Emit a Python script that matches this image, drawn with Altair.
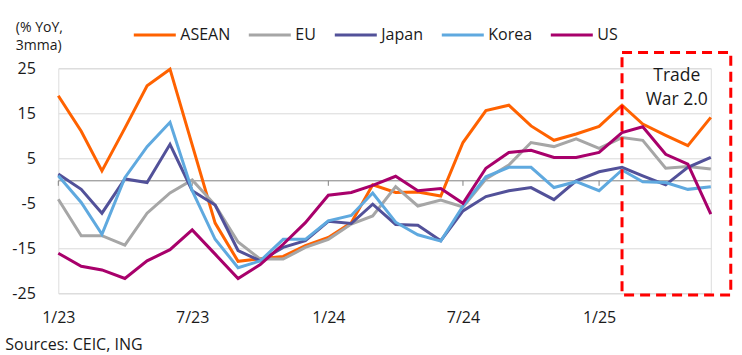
import altair as alt
import pandas as pd

# ---- data ----
months = pd.date_range("2023-01-01", periods=30, freq="MS").strftime("%Y-%m-%d").tolist()

asean = [18.9, 11.0, 2.2, 11.7, 21.1, 24.8, 8.0, -9.4, -17.9, -17.3,
         -16.8, -14.4, -12.6, -9.3, -0.9, -2.6, -2.5, -3.4, 8.5, 15.6,
         16.8, 12.2, 9.0, 10.4, 12.1, 16.8, 12.6, 10.1, 7.8, 14.1]
eu = [-4.1, -12.2, -12.2, -14.3, -7.2, -2.7, 0.2, -5.4, -13.6, -17.4,
      -17.4, -14.8, -13.0, -9.6, -7.8, -1.3, -5.6, -4.3, -5.8, 0.4,
      3.5, 8.5, 7.6, 9.3, 7.2, 9.6, 9.0, 2.8, 3.2, 2.6]
japan = [1.5, -1.9, -7.2, 0.4, -0.4, 8.1, -2.2, -5.4, -15.5, -17.8,
         -14.8, -13.3, -9.0, -9.5, -5.2, -9.7, -9.9, -13.3, -6.7, -3.5,
         -2.2, -1.5, -4.2, 0.0, 2.0, 3.0, 1.1, -0.9, 3.0, 5.2]
korea = [1.1, -4.8, -11.9, 0.7, 7.6, 13.0, -2.2, -13.0, -19.3, -17.8,
         -13.0, -13.0, -8.9, -7.7, -2.7, -9.2, -12.0, -13.4, -5.6, 0.9,
         3.0, 3.0, -1.5, -0.2, -2.2, 2.4, -0.2, -0.4, -1.9, -1.3]
us = [-16.1, -19.0, -19.8, -21.7, -17.8, -15.3, -10.9, -16.3, -21.7, -18.6,
      -14.1, -9.3, -3.2, -2.6, -1.0, 1.0, -2.2, -1.7, -5.0, 2.8,
      6.3, 6.8, 5.2, 5.2, 6.3, 10.7, 12.0, 5.9, 3.7, -7.4]

series_names = ["ASEAN", "EU", "Japan", "Korea", "US"]
series_values = [asean, eu, japan, korea, us]
colors = ["#FF6200", "#A6A6A6", "#525199", "#5FA9DF", "#A8006B"]

tick_dates = ["2023-01-01", "2023-07-01", "2024-01-01", "2024-07-01", "2025-01-01"]
y_ticks = [-25, -15, -5, 5, 15, 25]

box_start = ["2025-02-01"]
box_end = ["2025-06-28"]
box_top = [28.5]
box_bottom = [-25.4]

note_date = ["2025-04-16"]
note_value = [23.2]
note_text = ["Trade\nWar 2.0"]

y_title = ["(% YoY,", "3mma)"]
source_note = ["Sources: CEIC, ING"]

# ---- build tables ----
rows = []
for name, vals in zip(series_names, series_values):
    for m, v in zip(months, vals):
        rows.append({"month": m, "series": name, "value": v})
df = pd.DataFrame(rows)


def ms(d):
    return int(pd.Timestamp(d, tz="UTC").timestamp() * 1000)


tick_ms = [ms(d) for d in tick_dates]

FONT = "Open Sans"
TXT = "#1a1a1a"
W, H = 652.5, 225

xscale = alt.Scale(type="utc", domain=[ms(months[0]), ms(months[-1])], nice=False)
yscale = alt.Scale(domain=[-25, 25], nice=False)

x_axis = alt.Axis(values=tick_ms, format="%-m/%y", grid=False, ticks=False,
                  domain=False, labelPadding=16, labelFontSize=16,
                  labelColor=TXT, labelFont=FONT, title=None, labelFlush=False)
y_axis = alt.Axis(values=y_ticks, grid=True, gridColor="#d9d9d9", gridWidth=1,
                  ticks=False, domain=False, labelPadding=23, labelFontSize=16,
                  labelColor=TXT, labelFont=FONT,
                  labelExpr="toString(datum.value)",
                  title=y_title, titleAngle=0, titleAlign="left",
                  titleBaseline="top", titleX=-43, titleY=-48,
                  titleFontSize=14, titleFontWeight="normal", titleFont=FONT,
                  titleColor=TXT, titleLineHeight=18)

lines = alt.Chart(df).mark_line(strokeWidth=3).encode(
    x=alt.X("month:T", scale=xscale, axis=x_axis),
    y=alt.Y("value:Q", scale=yscale, axis=y_axis),
    color=alt.Color(
        "series:N",
        scale=alt.Scale(domain=series_names, range=colors),
        legend=alt.Legend(orient="none", legendX=74, legendY=-56,
                          direction="horizontal", title=None,
                          symbolType="stroke", symbolSize=1764,
                          symbolStrokeWidth=3, labelFontSize=16,
                          labelFont=FONT, labelColor=TXT, labelOffset=3,
                          columnPadding=12),
    ),
)

zero_line = alt.Chart(pd.DataFrame({"value": [0]})).mark_rule(
    color="#808080", strokeWidth=1).encode(y=alt.Y("value:Q", scale=yscale))

ticks = alt.Chart(pd.DataFrame({"month": tick_dates})).mark_rule(
    color="#808080", strokeWidth=1).encode(
    x=alt.X("month:T", scale=xscale),
    y=alt.datum(0),
    y2=alt.value(H / 2 + 5),
)

box = alt.Chart(pd.DataFrame({"month": box_start, "month_end": box_end,
                              "value": box_top, "value_end": box_bottom})).mark_rect(
    fillOpacity=0, stroke="#FF0000", strokeWidth=3, strokeDash=[10, 6]).encode(
    x=alt.X("month:T", scale=xscale), x2="month_end:T",
    y=alt.Y("value:Q", scale=yscale), y2="value_end:Q",
)

note = alt.Chart(pd.DataFrame({"month": note_date, "value": note_value,
                               "label": note_text})).mark_text(
    align="center", baseline="middle", fontSize=17.5, lineHeight=23.5,
    lineBreak="\n", font=FONT, color=TXT).encode(
    x=alt.X("month:T", scale=xscale), y=alt.Y("value:Q", scale=yscale),
    text="label:N",
)

source = alt.Chart(pd.DataFrame({"label": source_note})).mark_text(
    align="left", baseline="middle", fontSize=16, font=FONT, color=TXT).encode(
    x=alt.value(-53), y=alt.value(277), text="label:N")

chart = alt.layer(zero_line, ticks, lines, box, note, source).properties(
    width=W, height=H,
    autosize=alt.AutoSizeParams(type="none"),
    padding={"left": 58.3, "top": 68.3, "right": 31.2, "bottom": 61.7},
).configure_view(stroke=None).configure(background="white")

chart.save("out.html", embed_options={"renderer": "svg", "actions": False})
